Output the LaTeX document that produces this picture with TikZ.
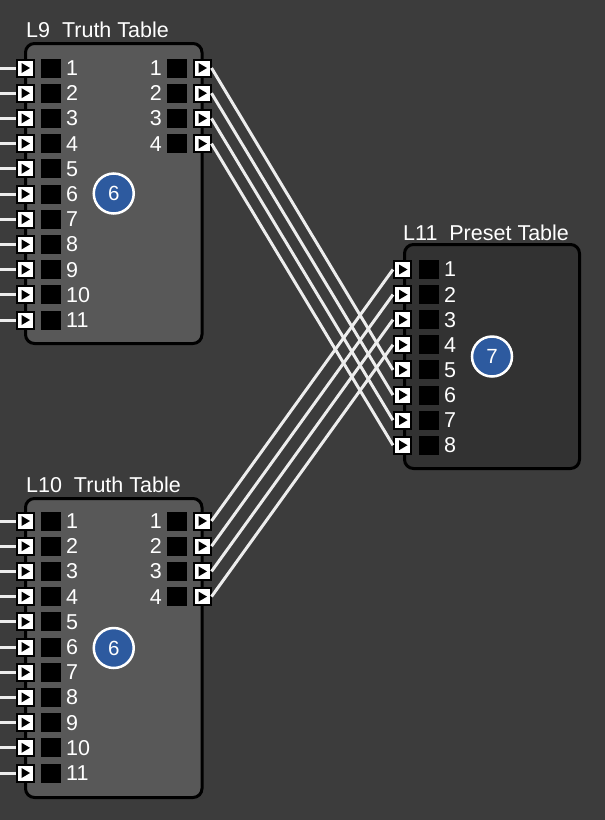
\documentclass[tikz,border=0pt]{standalone}
\usepackage{fontspec}
\setmainfont{Liberation Sans}
\definecolor{canvas}{HTML}{3C3C3C}
\definecolor{truthgray}{HTML}{585858}
\definecolor{presetgray}{HTML}{323232}
\definecolor{badgeblue}{HTML}{2D5A9F}
\definecolor{wiregray}{HTML}{EDEDED}

\begin{document}
\begin{tikzpicture}[x=1pt, y=-1pt,
		block/.style={draw=black, line width=3pt, rounded corners=9pt, inner sep=0pt},
		port/.style={draw=black, fill=white, line width=2pt, minimum size=17pt, inner sep=0pt,
			path picture={\fill[black] ([shift={(-3.5pt,5pt)}]path picture bounding box.center)
				-- ([shift={(5pt,0pt)}]path picture bounding box.center)
				-- ([shift={(-3.5pt,-5pt)}]path picture bounding box.center) -- cycle;}},
		cell/.style={fill=black, minimum width=20pt, minimum height=19pt, inner sep=0pt},
		num/.style={text=white, font=\fontsize{21.5}{22}\selectfont, inner sep=0pt},
		title/.style={text=white, font=\fontsize{21.5}{24}\selectfont, inner sep=0pt, anchor=base west},
		badge/.style={circle, draw=white, line width=2.5pt, fill=badgeblue, minimum size=40pt,
			inner sep=0pt, text=white, font=\fontsize{20.5}{21}\selectfont},
		wire/.style={draw=wiregray, line width=3pt},
	]
	\fill[canvas] (0,0) rectangle (605,820);
	\useasboundingbox (0,0) rectangle (605,820);

	% the three tables
	\node[block, fill=truthgray, minimum width=176.5pt, minimum height=300pt] (l9) at (113.75,193.5) {};
	\node[block, fill=truthgray, minimum width=176.5pt, minimum height=299pt] (l10) at (113.75,648) {};
	\node[block, fill=presetgray, minimum width=175pt, minimum height=224pt] (l11) at (492,356.5) {};

	\node[title] (l9t) at (26,37) {L9\ \ Truth Table};
	\node[title] (l10t) at (26,492) {L10\ \ Truth Table};
	\node[title] (l11t) at (403,240) {L11\ \ Preset Table};

	% inputs of L9 and L10
	\foreach \i [evaluate=\i as \ya using 68+25.2*(\i-1),
		evaluate=\i as \yb using 521+25.2*(\i-1)] in {1,...,11} {
		\coordinate (l9w\i) at (0,\ya);
		\node[cell] (l9c\i) at (50.5,\ya) {};
		\node[num, anchor=west] (l9n\i) at (66,\ya) {\i};
		\node[port] (l9i\i) at (25,\ya) {};
		\draw[wire] (l9w\i) -- (l9i\i.west);

		\coordinate (l10w\i) at (0,\yb);
		\node[cell] (l10c\i) at (50.5,\yb) {};
		\node[num, anchor=west] (l10n\i) at (66,\yb) {\i};
		\node[port] (l10i\i) at (25,\yb) {};
		\draw[wire] (l10w\i) -- (l10i\i.west);
	}

	% outputs of L9 and L10
	\foreach \i [evaluate=\i as \ya using 68+25.2*(\i-1),
		evaluate=\i as \yb using 521+25.2*(\i-1)] in {1,...,4} {
		\node[cell] (l9d\i) at (177,\ya) {};
		\node[num, anchor=east] (l9m\i) at (162,\ya) {\i};
		\node[port] (l9o\i) at (202,\ya) {};

		\node[cell] (l10d\i) at (177,\yb) {};
		\node[num, anchor=east] (l10m\i) at (162,\yb) {\i};
		\node[port] (l10o\i) at (202,\yb) {};
	}

	% inputs of L11
	\foreach \i [evaluate=\i as \y using 269.5+25.1*(\i-1)] in {1,...,8} {
		\node[cell] (l11c\i) at (428.5,\y) {};
		\node[num, anchor=west] (l11n\i) at (444,\y) {\i};
		\node[port] (l11i\i) at (402.5,\y) {};
	}

	% crossing wires
	\foreach \i [evaluate=\i as \j using int(\i+4)] in {1,...,4} {
		\draw[wire] (l9o\i.east) -- (l11i\j.west);
		\draw[wire] (l10o\i.east) -- (l11i\i.west);
	}

	\node[badge] (b9) at (l9.center) {6};
	\node[badge] (b10) at (l10.center) {6};
	\node[badge] (b11) at (l11.center) {7};
\end{tikzpicture}
\end{document}
